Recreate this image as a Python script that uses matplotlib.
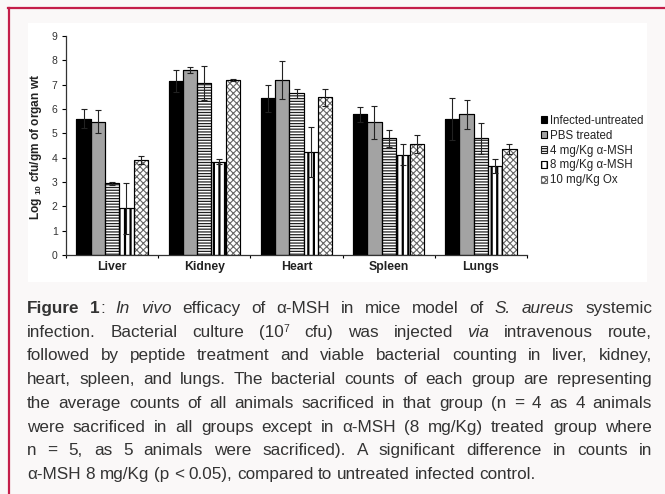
import re
import matplotlib
matplotlib.use('Agg')
import matplotlib.pyplot as plt
import numpy as np
from matplotlib.patches import Rectangle
from matplotlib.lines import Line2D

# ---------------- data ----------------
organs = ['Liver', 'Kidney', 'Heart', 'Spleen', 'Lungs']
series_names = ['Infected-untreated', 'PBS treated', '4 mg/Kg α-MSH',
                '8 mg/Kg α-MSH', '10 mg/Kg Ox']
infected = [5.60, 7.15, 6.44, 5.78, 5.59]
infected_err = [0.38, 0.44, 0.55, 0.32, 0.86]
pbs = [5.48, 7.60, 7.19, 5.45, 5.78]
pbs_err = [0.47, 0.12, 0.79, 0.69, 0.60]
msh4 = [2.95, 7.05, 6.64, 4.79, 4.79]
msh4_err = [0.06, 0.70, 0.17, 0.36, 0.63]
msh8 = [1.92, 3.84, 4.23, 4.12, 3.66]
msh8_err = [1.05, 0.09, 1.01, 0.44, 0.27]
ox = [3.89, 7.19, 6.49, 4.56, 4.37]
ox_err = [0.16, 0.03, 0.35, 0.37, 0.20]
y_ticks = [0, 1, 2, 3, 4, 5, 6, 7, 8, 9]

caption_lines = [
    "**Figure** **1**: _In_ _vivo_ efficacy of α-MSH in mice model of _S._ _aureus_ systemic",
    "infection. Bacterial culture (10^7 cfu) was injected _via_ intravenous route,",
    "followed by peptide treatment and viable bacterial counting in liver, kidney,",
    "heart, spleen, and lungs. The bacterial counts of each group are representing",
    "the average counts of all animals sacrificed in that group (n = 4 as 4 animals",
    "were sacrificed in all groups except in α-MSH (8 mg/Kg) treated group where",
    "n = 5, as 5 animals were sacrificed). A significant difference in counts in",
    "α-MSH 8 mg/Kg (p < 0.05), compared to untreated infected control.",
]

# ---------------- style ----------------
plt.rcParams['font.family'] = ['Liberation Sans', 'DejaVu Sans']
plt.rcParams['mathtext.fontset'] = 'custom'
plt.rcParams['mathtext.rm'] = 'Liberation Sans'
plt.rcParams['mathtext.bf'] = 'Liberation Sans:bold'
plt.rcParams['hatch.linewidth'] = 0.9

W, H = 665, 494
DPI = 100
fig = plt.figure(figsize=(W / DPI, H / DPI), dpi=DPI, facecolor='#faf8f8')

def px(x, y):
    return x / W, 1 - y / H

# white chart panel
x0, y0 = px(28, 23)
x1, y1 = px(647, 282)
fig.patches.append(Rectangle((x0, y1), x1 - x0, y0 - y1, transform=fig.transFigure,
                             facecolor='white', edgecolor='none', zorder=-5))
# crimson frame lines
crim = '#c41e4a'
fig.lines.append(Line2D([8 / W, 1.0], [1 - 8.5 / H, 1 - 8.5 / H], transform=fig.transFigure,
                        color=crim, lw=1.6, zorder=-4))
fig.lines.append(Line2D([8.5 / W, 8.5 / W], [0, 1 - 8.5 / H], transform=fig.transFigure,
                        color=crim, lw=1.6, zorder=-4))

# ---------------- axes ----------------
axl, axb = 66 / W, 1 - 255 / H
axw, axh = (527 - 66) / W, (255 - 36) / H
ax = fig.add_axes([axl, axb, axw, axh])
ax.set_zorder(5)
ax.set_facecolor('none')

values = [infected, pbs, msh4, msh8, ox]
errors = [infected_err, pbs_err, msh4_err, msh8_err, ox_err]
faces = ['black', '#a3a3a3', 'white', 'white', 'white']
hatches = [None, None, '------', '|||', 'xxxxx']
hatch_cols = ['black', 'black', '#222222', 'black', '#666666']
hatch_lws = [0.9, 0.9, 0.9, 1.6, 0.8]

x = np.arange(len(organs))
bw = 0.155
for j in range(5):
    pos = x + (j - 2) * bw
    bars = ax.bar(pos, values[j], width=bw, color=faces[j], edgecolor=hatch_cols[j],
                  hatch=hatches[j], linewidth=0.8, label=series_names[j], zorder=2)
    for b in bars:
        try:
            b.set_hatch_linewidth(hatch_lws[j])
        except Exception:
            pass
    ax.bar(pos, values[j], width=bw, color='none', edgecolor='black', linewidth=0.8, zorder=3)
    ax.errorbar(pos, values[j], yerr=errors[j], fmt='none', ecolor='#222222',
                elinewidth=0.8, capsize=2.5, capthick=0.8, zorder=4)

ax.set_xlim(-0.5, 4.5)
ax.set_ylim(0, 9)
ax.set_yticks(y_ticks)
ax.set_yticklabels([str(t) for t in y_ticks], fontsize=7.5, color='#333333')
ax.set_xticks(x)
ax.set_xticklabels(organs, fontsize=8.8, fontweight='bold', color='#222222')
ax.set_xticks(np.arange(-0.5, 5.0, 1.0), minor=True)
ax.tick_params(axis='x', which='major', length=0, pad=4)
ax.tick_params(axis='x', which='minor', length=2.5, direction='out', width=0.8)
ax.tick_params(axis='y', length=3, direction='out', width=0.8, pad=3)
for s in ['top', 'right']:
    ax.spines[s].set_visible(False)
for s in ['left', 'bottom']:
    ax.spines[s].set_linewidth(0.9)
    ax.spines[s].set_color('#333333')

ax.set_ylabel(r'Log $_{\mathbf{10}}$ cfu/gm of organ wt', fontsize=8.6, fontweight='bold',
              color='#222222')
ax.yaxis.set_label_coords((44.5 - 66) / (527 - 66), (255 - 147) / (255 - 36))

leg = ax.legend(loc='center left', bbox_to_anchor=(541 / W, 1 - 150.5 / H),
                bbox_transform=fig.transFigure, frameon=False, fontsize=8.3,
                handlelength=0.55, handleheight=0.55, handletextpad=0.2,
                labelspacing=0.25, borderaxespad=0, borderpad=0)
for t in leg.get_texts():
    t.set_color('#222222')

# ---------------- caption (justified) ----------------
FS = 12.3
CAP_FONT = ['Liberation Sans', 'DejaVu Sans']
TC = '#333333'
LEFT, RIGHT = 27, 652
BASE0, LSP = 313, 23.7

def parse_word(word):
    runs = []
    for m in re.finditer(r'\*\*(.+?)\*\*|_(.+?)_|\^(.)|([^*_^]+)', word):
        if m.group(1):
            runs.append((m.group(1), 'b'))
        elif m.group(2):
            runs.append((m.group(2), 'i'))
        elif m.group(3):
            runs.append((m.group(3), 'sup'))
        else:
            runs.append((m.group(4), 'n'))
    return runs

renderer = fig.canvas.get_renderer()

def make_text(s, style):
    kw = dict(fontsize=FS, color=TC, family=CAP_FONT, va='baseline', ha='left')
    if style == 'b':
        kw['fontweight'] = 'bold'
    elif style == 'i':
        kw['fontstyle'] = 'italic'
    elif style == 'sup':
        kw['fontsize'] = FS * 0.6
    return fig.text(0, 0, s, **kw)

def width_of(t):
    return t.get_window_extent(renderer).width

_a = make_text('a a', 'n'); _b = make_text('aa', 'n')
space_w = width_of(_a) - width_of(_b)
_a.remove(); _b.remove()

for li, line in enumerate(caption_lines):
    base = BASE0 + li * LSP
    words = []
    for w in line.split(' '):
        runs = []
        for s, st in parse_word(w):
            t = make_text(s, st)
            runs.append((t, st, width_of(t)))
        words.append(runs)
    wwidths = [sum(r[2] for r in runs) for runs in words]
    total = sum(wwidths)
    last = li == len(caption_lines) - 1
    if last or len(words) == 1:
        gap = space_w
    else:
        gap = (RIGHT - LEFT - total) / (len(words) - 1)
    cx = LEFT
    for runs, ww in zip(words, wwidths):
        rx = cx
        for t, st, tw in runs:
            yy = base - (5 if st == 'sup' else 0)
            t.set_position(px(rx, yy))
            rx += tw
        cx += ww + gap

fig.savefig('out.png', dpi=DPI, facecolor=fig.get_facecolor())
